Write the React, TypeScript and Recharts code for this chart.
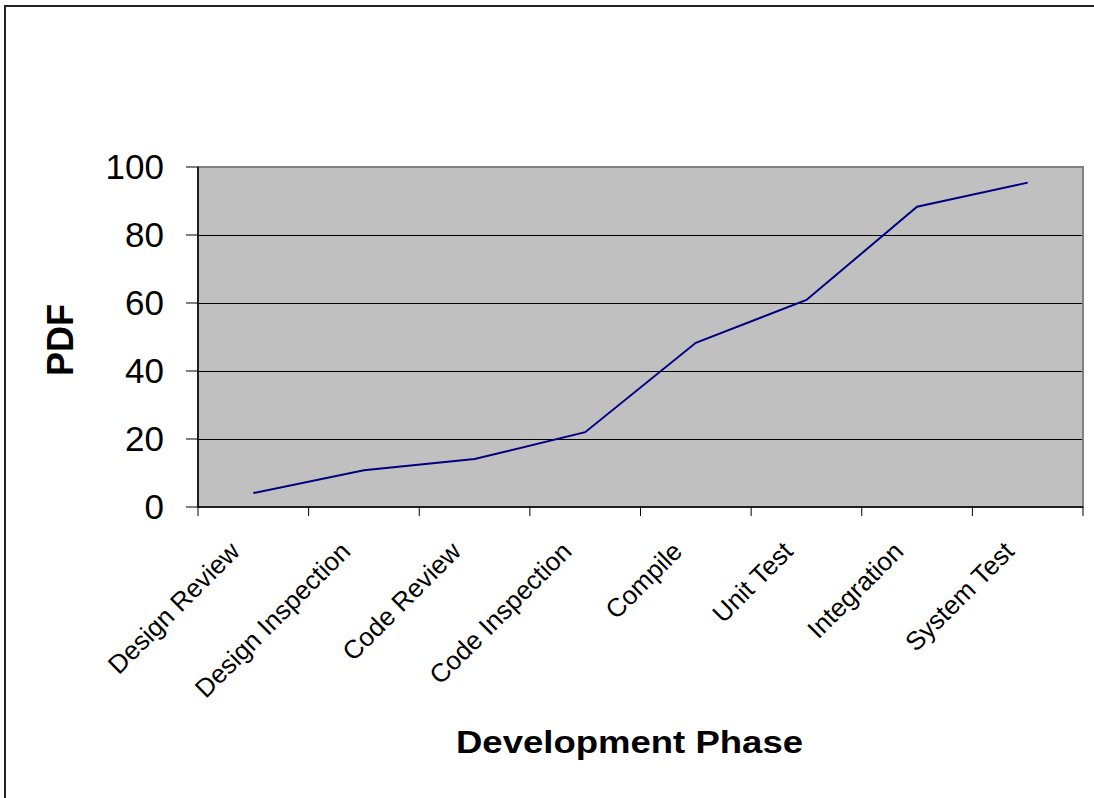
import React from "react";
import { LineChart, Line, XAxis, YAxis, CartesianGrid, ReferenceArea } from "recharts";

const phases = [
    "Design Review",
    "Design Inspection",
    "Code Review",
    "Code Inspection",
    "Compile",
    "Unit Test",
    "Integration",
    "System Test",
];
const pdfValues = [4.1, 10.8, 14.1, 22.0, 48.3, 60.9, 88.3, 95.4];
const yTicks = [0, 20, 40, 60, 80, 100];
const phaseEdges = [0, 1, 2, 3, 4, 5, 6, 7, 8];

const data = phases.map((phase, i) => ({ phase, pdf: pdfValues[i] }));

const FONT = "'Liberation Sans', Arial, Helvetica, sans-serif";
const PLOT_BOTTOM = 507;

type TickProps = { x?: number; y?: number; payload?: { value: string } };

const PhaseTick = ({ x = 0, payload }: TickProps) => {
    const tx = x - 12;
    const ty = PLOT_BOTTOM + 46;
    return (
        <text
            x={tx}
            y={ty}
            transform={`rotate(-45, ${tx}, ${ty})`}
            textAnchor="end"
            fontSize={26}
            fontFamily={FONT}
            fill="#000"
        >
            {payload?.value}
        </text>
    );
};

const EmptyTick = () => <g />;

type ViewBox = { x?: number; y?: number; width?: number; height?: number };

const XTitle = ({ viewBox }: { viewBox?: ViewBox }) => {
    const vb = viewBox || {};
    const cx = (vb.x ?? 198) + (vb.width ?? 885) / 2 - 11;
    const cy = PLOT_BOTTOM + 246;
    return (
        <text
            x={cx}
            y={cy}
            textAnchor="middle"
            fontSize={31}
            fontWeight="bold"
            fontFamily={FONT}
            fill="#000"
            textLength={347}
            lengthAdjust="spacingAndGlyphs"
        >
            Development Phase
        </text>
    );
};

const YTitle = ({ viewBox }: { viewBox?: ViewBox }) => {
    const vb = viewBox || {};
    const cx = 73;
    const cy = (vb.y ?? 167) + (vb.height ?? 340) / 2 + 3;
    return (
        <text
            x={cx}
            y={cy}
            transform={`rotate(-90, ${cx}, ${cy})`}
            textAnchor="middle"
            fontSize={36}
            fontWeight="bold"
            fontFamily={FONT}
            fill="#000"
        >
            PDF
        </text>
    );
};

export default function App() {
    return (
        <div
            style={{
                position: "absolute",
                left: 0,
                top: 0,
                width: 1094,
                height: 798,
                overflow: "hidden",
                background: "#fff",
            }}
        >
            <div
                style={{
                    position: "absolute",
                    left: 4,
                    top: 5,
                    width: 1200,
                    height: 900,
                    borderLeft: "2px solid #222",
                    borderTop: "2px solid #222",
                }}
            />
            <div style={{ position: "absolute", left: 0, top: 0 }}>
                <LineChart
                    width={1094}
                    height={798}
                    data={data}
                    margin={{ top: 167, right: 11, bottom: 141, left: 0 }}
                >
                    <CartesianGrid vertical={false} stroke="#000" fill="#C0C0C0" fillOpacity={1} shapeRendering="crispEdges" />
                    <ReferenceArea xAxisId="phase" y1={0} y2={100} fill="none" stroke="#808080" strokeWidth={2} ifOverflow="visible" />
                    <XAxis
                        xAxisId={0}
                        type="number"
                        dataKey="edge"
                        domain={[0, 8]}
                        allowDataOverflow
                        ticks={phaseEdges}
                        height={10}
                        axisLine={{ stroke: "#000", strokeWidth: 1.5 }}
                        tickLine={{ stroke: "#000" }}
                        tickSize={9}
                        tick={<EmptyTick />}
                        interval={0}
                    />
                    <XAxis
                        xAxisId="phase"
                        dataKey="phase"
                        scale="band"
                        height={140}
                        interval={0}
                        tickLine={false}
                        tickSize={0}
                        tickMargin={0}
                        axisLine={false}
                        tick={<PhaseTick />}
                        label={<XTitle />}
                    />
                    <YAxis
                        width={198}
                        domain={[0, 100]}
                        ticks={yTicks}
                        interval={0}
                        tickSize={12}
                        tickMargin={22}
                        axisLine={{ stroke: "#000", strokeWidth: 1.5 }}
                        tickLine={{ stroke: "#000" }}
                        tick={{ fontSize: 35, fill: "#000", fontFamily: FONT }}
                        label={<YTitle />}
                    />
                    <Line
                        xAxisId="phase"
                        type="linear"
                        dataKey="pdf"
                        stroke="#000080"
                        strokeWidth={2}
                        dot={false}
                        activeDot={false}
                        isAnimationActive={false}
                    />
                </LineChart>
            </div>
        </div>
    );
}
